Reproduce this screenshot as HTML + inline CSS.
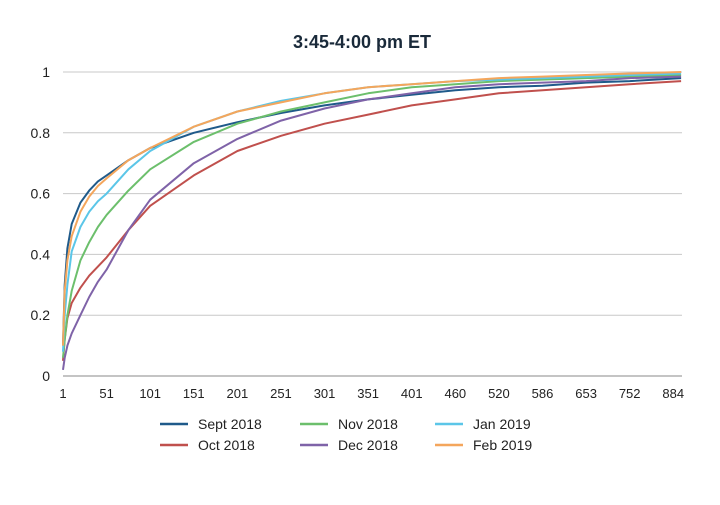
<!DOCTYPE html>
<html><head><meta charset="utf-8"><style>
body{margin:0;background:#fff;font-family:"Liberation Sans",sans-serif;}
#c{width:720px;height:500px;position:relative}
</style></head><body>
<div id="c">
<svg id="s" width="720" height="500" xmlns="http://www.w3.org/2000/svg"></svg>
</div>
<script>
const xIdx=[0,2,5,10,20,30,40,50,75,100,150,200,250,300,350,400,450,500,550,600,650,709];
const seriesNames=["Sept 2018","Oct 2018","Nov 2018","Dec 2018","Jan 2019","Feb 2019"];
const colors=["#1f5a8a","#c0504d","#6cbf6c","#7f63a8","#5bc6e8","#f4a65c"];
const sept=[0.10,0.30,0.42,0.50,0.57,0.61,0.64,0.66,0.71,0.75,0.80,0.835,0.865,0.89,0.91,0.925,0.94,0.95,0.955,0.965,0.97,0.98];
const oct=[0.05,0.12,0.19,0.24,0.29,0.33,0.36,0.39,0.48,0.56,0.66,0.74,0.79,0.83,0.86,0.89,0.91,0.93,0.94,0.95,0.96,0.97];
const nov=[0.06,0.12,0.20,0.28,0.38,0.44,0.49,0.53,0.61,0.68,0.77,0.83,0.87,0.90,0.93,0.95,0.96,0.97,0.975,0.98,0.985,0.99];
const dec=[0.02,0.06,0.10,0.14,0.20,0.26,0.31,0.35,0.48,0.58,0.70,0.78,0.84,0.88,0.91,0.93,0.95,0.96,0.965,0.97,0.98,0.985];
const jan=[0.08,0.20,0.30,0.41,0.49,0.54,0.575,0.60,0.68,0.74,0.82,0.87,0.905,0.93,0.95,0.96,0.97,0.975,0.98,0.985,0.99,0.995];
const feb=[0.10,0.28,0.38,0.46,0.54,0.59,0.625,0.65,0.71,0.75,0.82,0.87,0.90,0.93,0.95,0.96,0.97,0.98,0.985,0.99,0.995,1.0];
const allSeries=[sept,oct,nov,dec,jan,feb];
const xTickIdx=[0,50,100,150,200,250,300,350,400,450,500,550,600,650,700];
const xTickLabels=["1","51","101","151","201","251","301","351","401","460","520","586","653","752","884"];
const yTicks=[0,0.2,0.4,0.6,0.8,1];
const yTickLabels=["0","0.2","0.4","0.6","0.8","1"];

const X0=63,X1=682,Y0=376,Y1=72,NMAX=710;
const xs=i=>X0+i*(X1-X0)/NMAX;
const ys=v=>Y0-v*(Y0-Y1);
const s=document.getElementById('s');
const NS="http://www.w3.org/2000/svg";
function mk(t,a,p){const e=document.createElementNS(NS,t);for(const k in a)e.setAttribute(k,a[k]);(p||s).appendChild(e);return e;}

const title=mk('text',{x:362,y:48,'text-anchor':'middle','font-size':18,'font-weight':'bold',fill:'#1a2a3a'});
title.textContent="3:45-4:00 pm ET";



yTicks.forEach((v,i)=>{
  const g=mk('line',{x1:X0,x2:X1,y1:ys(v),y2:ys(v),stroke:i==0?'#888':'#c8c8c8','stroke-width':1});
  
  
  const t=mk('text',{x:50,y:ys(v)+5,'text-anchor':'end','font-size':14,fill:'#222'});
  t.textContent=yTickLabels[i];
  
  
});
xTickIdx.forEach((ix,i)=>{
  const t=mk('text',{x:xs(ix),y:398,'text-anchor':'middle','font-size':13,fill:'#222'});
  t.textContent=xTickLabels[i];
  
  
});
allSeries.forEach((d,k)=>{
  const pts=d.map((v,i)=>xs(xIdx[i]).toFixed(1)+','+ys(v).toFixed(1)).join(' ');
  const p=mk('polyline',{points:pts,fill:'none',stroke:colors[k],'stroke-width':2,'stroke-linejoin':'round'});
  
  
});
const lx=[160,300,435],ly=[424,445];
seriesNames.forEach((n,k)=>{
  const col=Math.floor(k/2),row=k%2;
  const g=mk('g',{});
  
  
  mk('line',{x1:lx[col],x2:lx[col]+28,y1:ly[row],y2:ly[row],stroke:colors[k],'stroke-width':2.5},g);
  const t=mk('text',{x:lx[col]+38,y:ly[row]+5,'font-size':14,fill:'#222'},g);
  t.textContent=n;
});
</script>
</body></html>
